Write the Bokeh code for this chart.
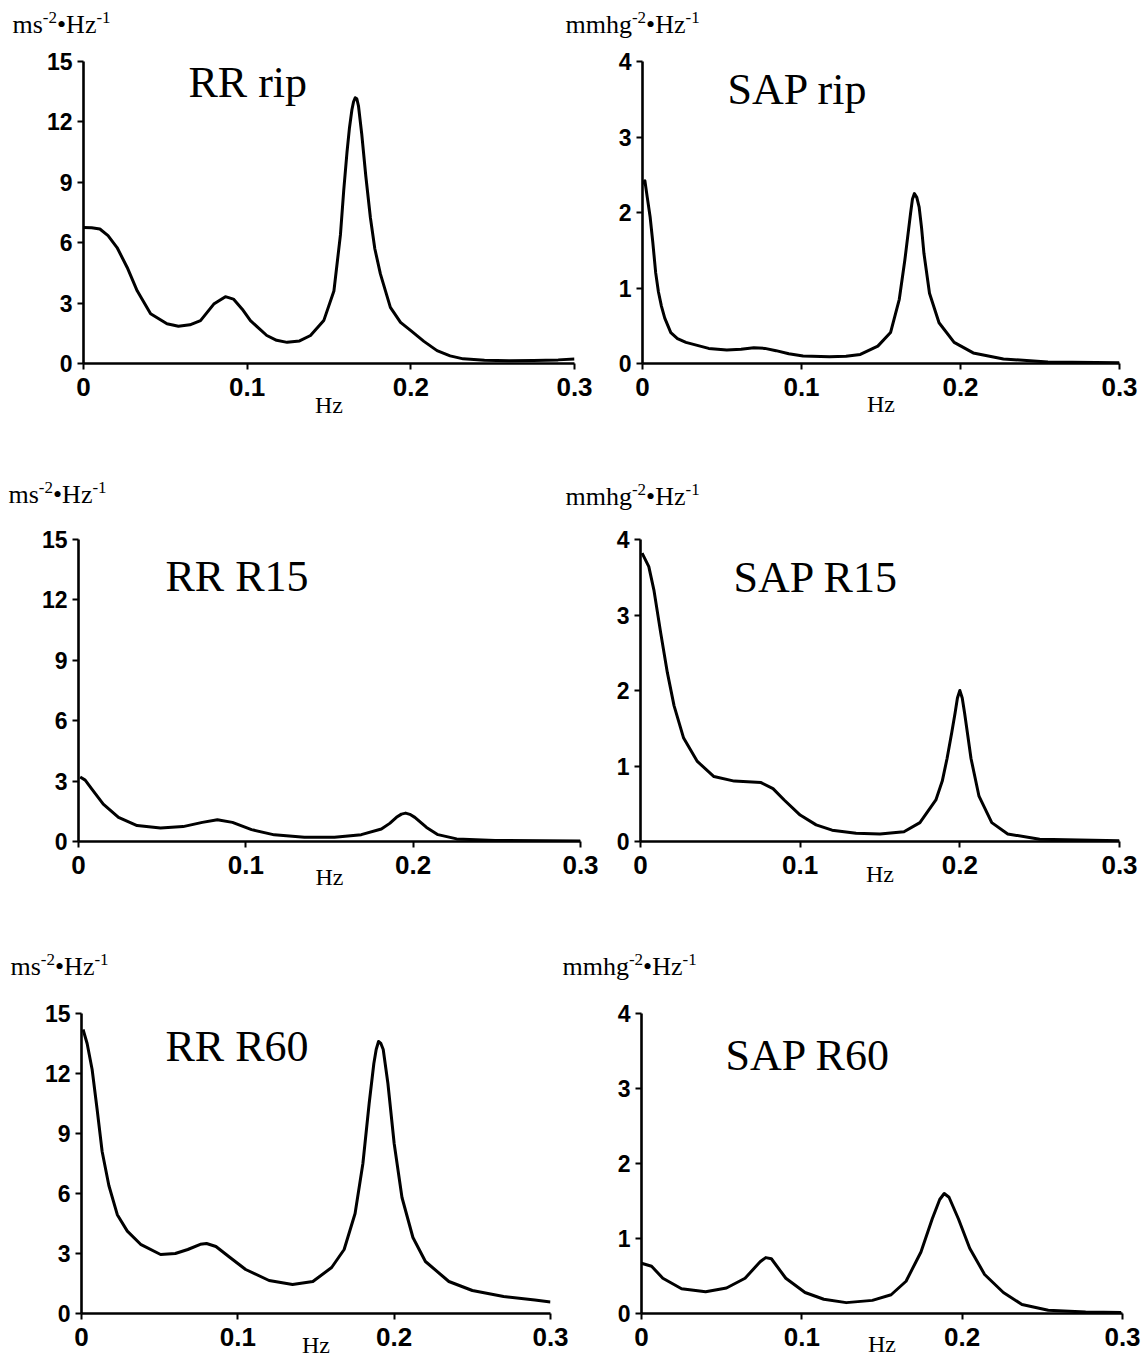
from bokeh.plotting import figure
from bokeh.layouts import column, row
from bokeh.models import Range1d, FixedTicker, Label
from bokeh.embed import file_html
from bokeh.resources import INLINE

# ---------------- data ----------------
x_ticks = [0, 0.1, 0.2, 0.3]
x_tick_labels = ["0", "0.1", "0.2", "0.3"]
rr_ticks = [0, 3, 6, 9, 12, 15]
sap_ticks = [0, 1, 2, 3, 4]

titles = ["RR rip", "SAP rip", "RR R15", "SAP R15", "RR R60", "SAP R60"]
rr_units = [("ms", False), ("-2", True), ("\u2022Hz", False), ("-1", True)]
sap_units = [("mmhg", False), ("-2", True), ("\u2022Hz", False), ("-1", True)]
x_unit = "Hz"

freq_rr_rip = [0.000, 0.005, 0.010, 0.015, 0.0205, 0.0267, 0.0328, 0.041, 0.051, 0.058,
               0.065, 0.0715, 0.0796, 0.0867, 0.0916, 0.097, 0.102, 0.112, 0.118, 0.1244,
               0.132, 0.1387, 0.1468, 0.153, 0.157, 0.159, 0.161, 0.1625, 0.164, 0.165,
               0.166, 0.167, 0.168, 0.170, 0.1725, 0.1753, 0.178, 0.1814, 0.1875, 0.1937,
               0.200, 0.208, 0.216, 0.224, 0.232, 0.245, 0.260, 0.275, 0.290, 0.300]
psd_rr_rip = [6.75, 6.74, 6.68, 6.35, 5.76, 4.77, 3.61, 2.47, 1.97, 1.85,
              1.92, 2.13, 2.95, 3.32, 3.20, 2.70, 2.13, 1.39, 1.15, 1.05,
              1.12, 1.39, 2.13, 3.60, 6.40, 8.60, 10.5, 11.7, 12.6, 13.0,
              13.2, 13.15, 12.8, 11.4, 9.30, 7.24, 5.70, 4.45, 2.79, 2.04,
              1.63, 1.10, 0.64, 0.38, 0.23, 0.16, 0.14, 0.15, 0.18, 0.22]

freq_sap_rip = [0.000, 0.0015, 0.003, 0.0048, 0.0065, 0.0083, 0.010, 0.0119, 0.014, 0.0178,
                0.022, 0.0273, 0.0416, 0.053, 0.062, 0.070, 0.077, 0.084, 0.092, 0.101,
                0.1176, 0.128, 0.137, 0.148, 0.156, 0.1615, 0.165, 0.1686, 0.1698, 0.171,
                0.1725, 0.174, 0.1755, 0.177, 0.1805, 0.1865, 0.196, 0.208, 0.227, 0.255,
                0.300]
psd_sap_rip = [2.38, 2.42, 2.20, 1.94, 1.60, 1.20, 0.95, 0.76, 0.60, 0.41,
               0.33, 0.28, 0.20, 0.18, 0.19, 0.21, 0.20, 0.17, 0.13, 0.10,
               0.09, 0.095, 0.12, 0.23, 0.41, 0.85, 1.37, 1.99, 2.18, 2.25,
               2.20, 2.07, 1.80, 1.46, 0.93, 0.54, 0.28, 0.14, 0.06, 0.02,
               0.01]

freq_rr_r15 = [0.001, 0.004, 0.008, 0.0148, 0.0239, 0.035, 0.049, 0.0625, 0.074, 0.083,
               0.092, 0.1034, 0.117, 0.135, 0.153, 0.169, 0.181, 0.186, 0.190, 0.193,
               0.1955, 0.198, 0.201, 0.208, 0.2148, 0.226, 0.249, 0.300]
psd_rr_r15 = [3.20, 3.05, 2.60, 1.86, 1.20, 0.79, 0.67, 0.74, 0.95, 1.08,
              0.95, 0.59, 0.33, 0.21, 0.21, 0.34, 0.62, 0.90, 1.20, 1.36,
              1.41, 1.35, 1.20, 0.70, 0.34, 0.13, 0.05, 0.02]

freq_sap_r15 = [0.001, 0.0052, 0.0084, 0.0126, 0.0168, 0.021, 0.027, 0.0356, 0.046, 0.0587,
                0.0755, 0.083, 0.090, 0.100, 0.110, 0.120, 0.135, 0.150, 0.165, 0.175,
                0.185, 0.189, 0.192, 0.195, 0.197, 0.1985, 0.200, 0.2015, 0.203, 0.205,
                0.207, 0.212, 0.220, 0.230, 0.250, 0.300]
psd_sap_r15 = [3.82, 3.64, 3.33, 2.77, 2.24, 1.80, 1.37, 1.06, 0.86, 0.80,
               0.78, 0.70, 0.55, 0.35, 0.22, 0.15, 0.11, 0.10, 0.13, 0.25,
               0.55, 0.80, 1.10, 1.45, 1.70, 1.90, 2.00, 1.90, 1.70, 1.40,
               1.10, 0.60, 0.25, 0.10, 0.03, 0.01]

freq_rr_r60 = [0.001, 0.0036, 0.0068, 0.010, 0.0132, 0.0175, 0.0229, 0.0293, 0.0378, 0.0506,
               0.060, 0.068, 0.076, 0.080, 0.086, 0.095, 0.105, 0.120, 0.135, 0.148,
               0.160, 0.168, 0.175, 0.180, 0.184, 0.187, 0.1885, 0.190, 0.1915, 0.193,
               0.196, 0.200, 0.205, 0.212, 0.220, 0.235, 0.250, 0.270, 0.290, 0.300]
psd_rr_r60 = [14.2, 13.5, 12.2, 10.2, 8.1, 6.4, 4.94, 4.12, 3.46, 2.95,
              3.00, 3.20, 3.46, 3.50, 3.35, 2.80, 2.20, 1.65, 1.45, 1.60,
              2.30, 3.20, 5.00, 7.50, 10.5, 12.5, 13.2, 13.6, 13.5, 13.2,
              11.5, 8.5, 5.8, 3.8, 2.6, 1.6, 1.15, 0.85, 0.68, 0.58]

freq_sap_r60 = [0.000, 0.0063, 0.0133, 0.025, 0.040, 0.053, 0.0646, 0.074, 0.0775, 0.081,
                0.090, 0.102, 0.1137, 0.1277, 0.144, 0.1557, 0.165, 0.1743, 0.1813, 0.186,
                0.1888, 0.1918, 0.1977, 0.2047, 0.214, 0.2257, 0.2373, 0.2537, 0.277, 0.2992]
psd_sap_r60 = [0.67, 0.63, 0.47, 0.33, 0.29, 0.34, 0.47, 0.69, 0.745, 0.73,
               0.47, 0.28, 0.19, 0.145, 0.175, 0.25, 0.43, 0.82, 1.26, 1.52,
               1.60, 1.55, 1.26, 0.87, 0.52, 0.28, 0.12, 0.044, 0.02, 0.013]

# ---------------- layout (page pixels) ----------------
PAGE_W = 1148
LEFT_W = 600
RIGHT_W = PAGE_W - LEFT_W

# strips carrying the unit labels above each row (baselines in page px)
strips = [
    dict(top=0, h=44, pos=[(12, 33), (565, 33)], units=[rr_units, sap_units]),
    dict(top=472, h=43, pos=[(8, 503), (565, 505)], units=[rr_units, sap_units]),
    dict(top=944, h=41, pos=[(10, 975), (562, 975)], units=[rr_units, sap_units]),
]

# panels: figure origin (ox, oy), size (w, h), frame left/right/top/bottom
panels = [
    dict(ox=0, oy=44, w=LEFT_W, h=428, fl=83, fr=574, ft=60, fb=363,
         ticks=rr_ticks, xs=freq_rr_rip, ys=psd_rr_rip, title_pos=(188, 96), hz_top=396),
    dict(ox=600, oy=44, w=RIGHT_W, h=428, fl=642, fr=1119, ft=61, fb=364,
         ticks=sap_ticks, xs=freq_sap_rip, ys=psd_sap_rip, title_pos=(727, 104), hz_top=396),
    dict(ox=0, oy=515, w=LEFT_W, h=429, fl=78, fr=580, ft=538, fb=841,
         ticks=rr_ticks, xs=freq_rr_r15, ys=psd_rr_r15, title_pos=(165, 590), hz_top=868),
    dict(ox=600, oy=515, w=RIGHT_W, h=429, fl=640, fr=1119, ft=539, fb=844,
         ticks=sap_ticks, xs=freq_sap_r15, ys=psd_sap_r15, title_pos=(733, 592), hz_top=868),
    dict(ox=0, oy=985, w=LEFT_W, h=377, fl=81, fr=550, ft=1010, fb=1313,
         ticks=rr_ticks, xs=freq_rr_r60, ys=psd_rr_r60, title_pos=(165, 1058), hz_top=1336),
    dict(ox=600, oy=985, w=RIGHT_W, h=377, fl=641, fr=1122, ft=1013, fb=1314,
         ticks=sap_ticks, xs=freq_sap_r60, ys=psd_sap_r60, title_pos=(725, 1070), hz_top=1336),
]

# Times / Liberation Serif advance widths (em/1000)
times_w = {"m": 778, "s": 389, "h": 500, "g": 500, "H": 722, "z": 444,
           "-": 333, "2": 500, "1": 500, "\u2022": 350}

TITLE_SIZE = 44
UNIT_SIZE = 26
SUP_SIZE = 17
SUP_RAISE = 10
HZ_SIZE = 24
XTICK_SIZE = 26
YTICK_SIZE = 23
TICK_OUT = 6
X_STANDOFF = 8
XTICK_BOX = 26   # measured height of the x tick label box
MID = 0.3375     # baseline -> middle of font box, in em


def text_width(s, size):
    return sum(times_w.get(c, 500) for c in s) / 1000.0 * size


def serif_label(x, y, text, size, align="left"):
    return Label(x=x, y=y, text=text, text_font="Liberation Serif",
                 text_font_size=f"{size}px", text_align=align,
                 text_baseline="middle", text_color="black")


def make_strip(st):
    p = figure(width=PAGE_W, height=st["h"], x_range=Range1d(0, PAGE_W),
               y_range=Range1d(st["h"], 0), x_axis_type=None, y_axis_type=None,
               min_border=0, min_border_left=0, min_border_right=0,
               min_border_top=0, min_border_bottom=0,
               output_backend="svg", toolbar_location=None,
               outline_line_color=None, background_fill_color="white",
               border_fill_color="white")
    p.grid.visible = False
    for (ux, uyb), units in zip(st["pos"], st["units"]):
        cur = ux
        for part, sup in units:
            size = SUP_SIZE if sup else UNIT_SIZE
            base = uyb - (SUP_RAISE if sup else 0) - st["top"]
            p.add_layout(serif_label(cur, base - MID * size, part, size))
            cur += text_width(part, size)
    return p


def make_panel(i, sp):
    x0, x1 = x_ticks[0], x_ticks[-1]
    y0, y1 = sp["ticks"][0], sp["ticks"][-1]
    fl, fr, ft, fb = sp["fl"], sp["fr"], sp["ft"], sp["fb"]

    def dx(px):
        return x0 + (px - fl) / (fr - fl) * (x1 - x0)

    def dy(py):
        return y0 + (fb - py) / (fb - ft) * (y1 - y0)

    p = figure(width=sp["w"], height=sp["h"],
               min_border_left=fl - sp["ox"], min_border_right=sp["ox"] + sp["w"] - fr,
               min_border_top=ft - sp["oy"], min_border_bottom=sp["oy"] + sp["h"] - fb,
               x_range=Range1d(x0, x1), y_range=Range1d(y0, y1),
               output_backend="svg", toolbar_location=None,
               outline_line_color=None, background_fill_color="white",
               border_fill_color="white")
    p.xgrid.visible = False
    p.ygrid.visible = False

    p.line(sp["xs"], sp["ys"], line_color="black", line_width=3, line_join="round")

    for ax in (p.xaxis[0], p.yaxis[0]):
        ax.axis_line_color = "black"
        ax.axis_line_width = 2.6
        ax.major_tick_line_color = "black"
        ax.major_tick_line_width = 2
        ax.major_tick_in = 0
        ax.major_tick_out = TICK_OUT
        ax.minor_tick_line_color = None
        ax.major_label_text_font = "Liberation Sans"
        ax.major_label_text_font_style = "bold"
        ax.major_label_text_color = "black"

    p.xaxis.ticker = FixedTicker(ticks=x_ticks)
    p.xaxis.major_label_overrides = dict(zip(x_ticks, x_tick_labels))
    p.xaxis.major_label_text_font_size = f"{XTICK_SIZE}px"
    p.xaxis.major_label_standoff = X_STANDOFF

    # "Hz" as the x axis label, tucked between the tick labels
    p.xaxis.axis_label = x_unit
    p.xaxis.axis_label_text_font = "Liberation Serif"
    p.xaxis.axis_label_text_font_style = "normal"
    p.xaxis.axis_label_text_font_size = f"{HZ_SIZE}px"
    p.xaxis.axis_label_text_color = "black"
    p.xaxis.axis_label_standoff = int(sp["hz_top"] - fb - (TICK_OUT + X_STANDOFF + XTICK_BOX))

    p.yaxis.ticker = FixedTicker(ticks=sp["ticks"])
    p.yaxis.major_label_text_font_size = f"{YTICK_SIZE}px"
    p.yaxis.major_label_standoff = 5

    # panel title
    tx, tyb = sp["title_pos"]
    p.add_layout(serif_label(dx(tx), dy(tyb - MID * TITLE_SIZE), titles[i], TITLE_SIZE))
    return p


strip_figs = [make_strip(st) for st in strips]
figs = [make_panel(i, sp) for i, sp in enumerate(panels)]
layout = column(strip_figs[0], row(figs[0], figs[1]),
                strip_figs[1], row(figs[2], figs[3]),
                strip_figs[2], row(figs[4], figs[5]))

open("out.html", "w").write(file_html(layout, INLINE))
